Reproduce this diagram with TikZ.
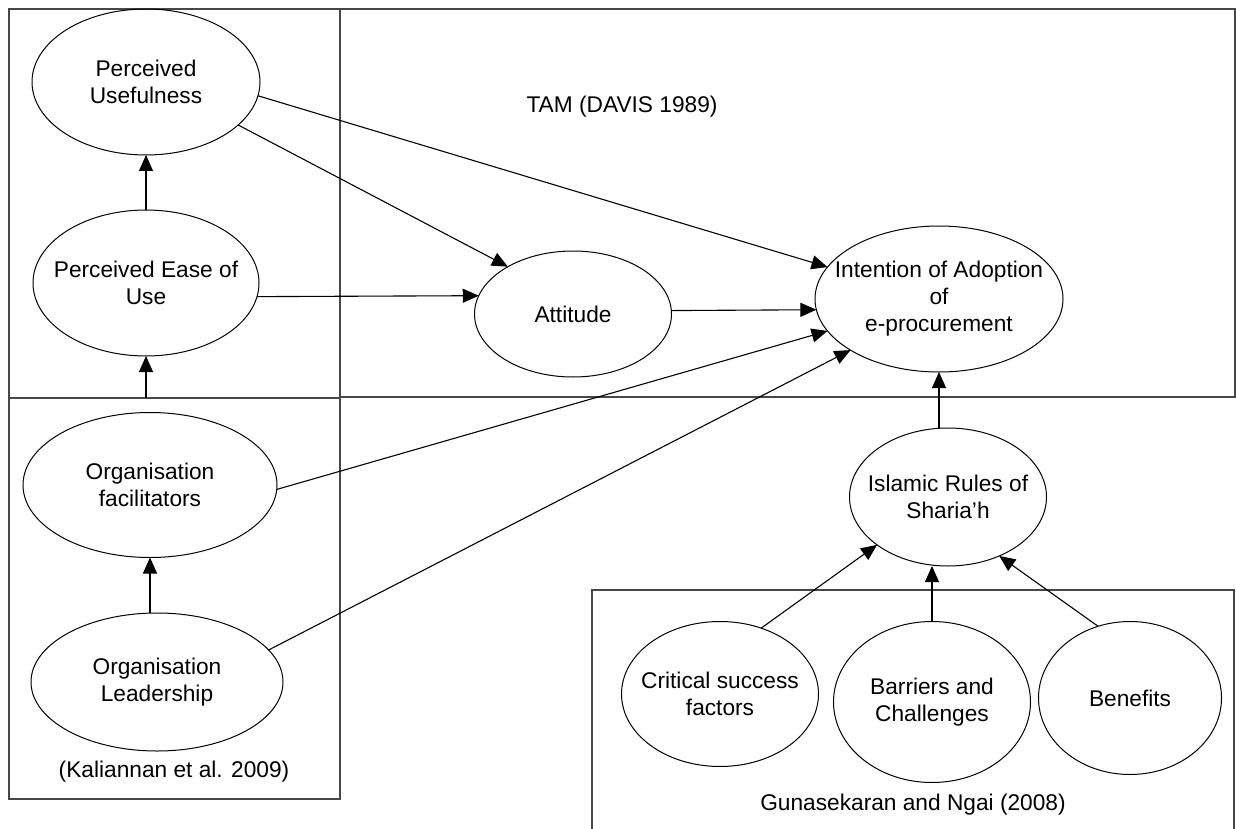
\documentclass[tikz,border=0pt]{standalone}
\usepackage{fontspec}
\setmainfont{Liberation Sans}
\usetikzlibrary{shapes.geometric,arrows.meta}

\begin{document}
\begin{tikzpicture}[x=1pt,y=-1pt,
  txt/.style={font=\fontsize{22.7}{27}\selectfont, align=center, inner sep=0pt},
  oval/.style={ellipse, draw=black, line width=1pt, inner sep=0pt, outer sep=0pt},
  frame/.style={draw=black!72, line width=1.6pt},
  link/.style={draw=black, line width=1.1pt, -{Triangle[length=16pt,width=14pt]}}]
\useasboundingbox (0,0) rectangle (1236,829);

% group frames
\draw[frame] (9,9) rectangle (340,799);
\draw[frame] (9,398) -- (340,398);
\draw[frame] (340,9) rectangle (1235,397);
\draw[frame] (592,829) -- (592,590) -- (1234,590) -- (1234,829);

% constructs
\node[oval, minimum width=228, minimum height=146,
      label={[txt]center:Perceived\\Usefulness}] (pu) at (146,82) {};
\node[oval, minimum width=226, minimum height=146,
      label={[txt]center:Perceived Ease of\\Use}] (peou) at (146,283) {};
\node[oval, minimum width=254, minimum height=145,
      label={[txt]center:Organisation\\facilitators}] (fac) at (150,485) {};
\node[oval, minimum width=252, minimum height=138,
      label={[txt]center:Organisation\\Leadership}] (lead) at (157,682) {};
\node[oval, minimum width=197, minimum height=126,
      label={[txt]center:Attitude}] (att) at (573,314) {};
\node[oval, minimum width=248, minimum height=146,
      label={[txt]center:Intention of Adoption\\of\\e-procurement}] (int) at (939,299) {};
\node[oval, minimum width=197, minimum height=138,
      label={[txt]center:Islamic Rules of\\Sharia’h}] (isl) at (948,497) {};
\node[oval, minimum width=197, minimum height=145,
      label={[txt]center:Critical success\\factors}] (csf) at (720,694) {};
\node[oval, minimum width=197, minimum height=161,
      label={[txt]center:Barriers and\\Challenges}] (bar) at (932,702) {};
\node[oval, minimum width=183, minimum height=153,
      label={[txt]center:Benefits}] (ben) at (1130,698) {};

% group captions
\node[txt] (tam) at (622,107) {TAM (DAVIS 1989)};
\node[txt] (kal) at (174,772) {(Kaliannan et al. 2009)};
\node[txt] (gun) at (913,805) {Gunasekaran and Ngai (2008)};

% relations
\coordinate (split) at (146,398);
\draw[link] (split) -- (peou.south);
\draw[link] (peou.north) -- (pu.south);
\draw[link] (lead.north -| fac.south) -- (fac.south);
\draw[link] (pu.-25.3) -- (att.144.5);
\draw[link] (pu.-7.6) -- (int.164.5);
\draw[link] (peou.-7.6) -- (att.169.9);
\draw[link] (att.2) -- (int.185.2);
\draw[link] (fac.-2.3) -- (int.196.4);
\draw[link] (lead.16.8) -- (int.210.8);
\draw[link] (isl.north -| int.south) -- (int.south);
\draw[link] (csf.58) -- (isl.214.4);
\draw[link] (bar.north) -- (bar.north |- isl.south);
\draw[link] (ben.114.3) -- (isl.-49.6);
\end{tikzpicture}
\end{document}
